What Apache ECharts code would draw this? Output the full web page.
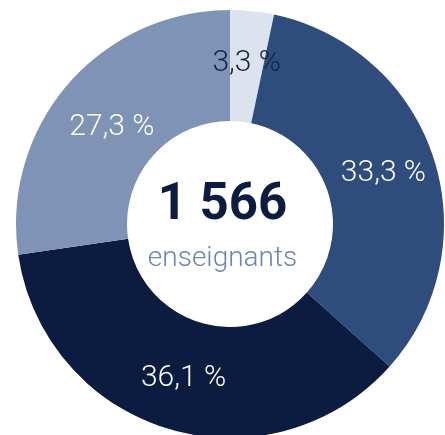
<!DOCTYPE html>
<html>
<head>
<meta charset="utf-8">
<script src="https://cdn.jsdelivr.net/npm/echarts@6/dist/echarts.min.js"></script>
<style>
  html, body { margin: 0; padding: 0; background: #fff; }
  #chart { width: 445px; height: 435px; }
</style>
</head>
<body>
<div id="chart"></div>
<script>
var shares = [3.3, 33.3, 36.1, 27.3];
var colors = ['#dce3ee', '#2e4d7c', '#0b1c40', '#7e93b6'];
var labelColors = ['#14244a', '#fff', '#fff', '#fff'];
var total = '1 566';
var unit = 'enseignants';

var font = "'Helvetica Neue', Roboto, 'Liberation Sans', sans-serif";

var myChart = echarts.init(document.getElementById('chart'));
option = {
    animation: false,
    graphic: [
        {
            type: 'text', left: 'center', top: 181, z: 10,
            style: { text: total, fill: '#0b1c40', font: 'bold 51px ' + font, textAlign: 'center' }
        },
        {
            type: 'text', left: 'center', top: 245, z: 10,
            style: { text: unit, fill: '#6d84ad', font: '300 28px ' + font, textAlign: 'center' }
        }
    ],
    series: [{
        type: 'pie',
        center: [230, 224],
        radius: [103, 214],
        startAngle: 90,
        clockwise: true,
        silent: true,
        label: {
            position: 'inside',
            fontFamily: font,
            fontWeight: 300,
            fontSize: 30,
            formatter: function (p) { return String(p.value).replace('.', ',') + ' %'; }
        },
        labelLine: { show: false },
        data: shares.map(function (v, i) {
            var lbl = { color: labelColors[i] };
            // the last label sits a bit lower in the original
            if (i === 3) lbl.offset = [4, 9];
            return { value: v, itemStyle: { color: colors[i] }, label: lbl };
        })
    }]
};
myChart.setOption(option);
</script>
</body>
</html>
